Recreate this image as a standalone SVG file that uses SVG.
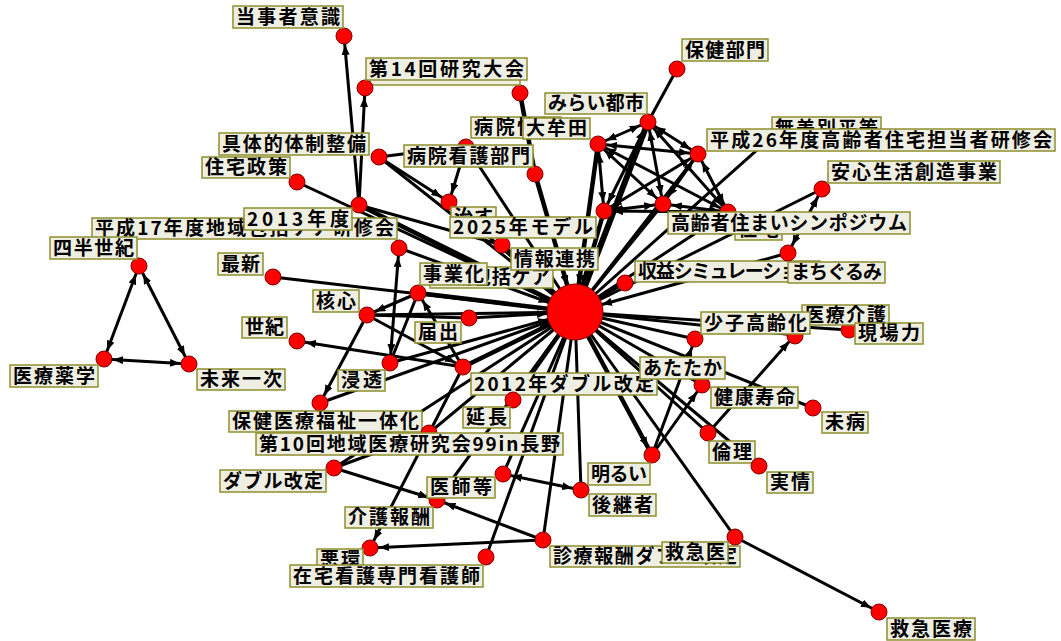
<svg xmlns="http://www.w3.org/2000/svg" width="1061" height="641" viewBox="0 0 1061 641">
<style>
.e{stroke:#000;stroke-width:3;fill:none}
.t{stroke:#000;stroke-width:4.5;fill:none}
.d{fill:#ff0000;stroke:#800000;stroke-width:1}
.b{fill:#eeeee2;stroke:#8e8e2e;stroke-width:1.5}
.l{font-family:"Noto Sans CJK JP","Noto Sans",sans-serif;font-weight:bold;font-size:19px;fill:#000}
</style>
<defs>
<marker id="ah" viewBox="0 0 10 8" refX="19" refY="4" markerWidth="10" markerHeight="8" markerUnits="userSpaceOnUse" orient="auto-start-reverse"><path d="M0,0 L10,4 L0,8 z" fill="#000"/></marker>
<marker id="ahc" viewBox="0 0 10 8" refX="38" refY="4" markerWidth="10" markerHeight="8" markerUnits="userSpaceOnUse" orient="auto"><path d="M0,0 L10,4 L0,8 z" fill="#000"/></marker>
</defs>
<rect width="1061" height="641" fill="#fff"/>
<g id="connectors">
<line class="e" x1="359" y1="205" x2="344" y2="36" marker-end="url(#ah)"/>
<line class="e" x1="359" y1="205" x2="365" y2="88" marker-end="url(#ah)"/>
<line class="t" x1="359" y1="205" x2="575" y2="312"/>
<line class="e" x1="359" y1="205" x2="502" y2="245"/>
<line class="e" x1="297" y1="182" x2="575" y2="312"/>
<line class="e" x1="379" y1="157" x2="449" y2="202" marker-end="url(#ah)"/>
<line class="e" x1="379" y1="157" x2="575" y2="312"/>
<line class="e" x1="379" y1="157" x2="466" y2="146"/>
<line class="e" x1="466" y1="146" x2="449" y2="202" marker-end="url(#ah)"/>
<line class="e" x1="466" y1="146" x2="575" y2="312"/>
<line class="e" x1="449" y1="202" x2="575" y2="312"/>
<line class="t" x1="520" y1="93" x2="535" y2="174"/>
<line class="t" x1="535" y1="174" x2="575" y2="312" marker-end="url(#ahc)"/>
<line class="e" x1="598" y1="144" x2="648" y2="122" marker-start="url(#ah)" marker-end="url(#ah)"/>
<line class="e" x1="598" y1="144" x2="604" y2="211" marker-start="url(#ah)" marker-end="url(#ah)"/>
<line class="e" x1="598" y1="144" x2="663" y2="204" marker-start="url(#ah)" marker-end="url(#ah)"/>
<line class="e" x1="598" y1="144" x2="698" y2="154" marker-start="url(#ah)" marker-end="url(#ah)"/>
<line class="e" x1="598" y1="144" x2="728" y2="212" marker-start="url(#ah)" marker-end="url(#ah)"/>
<line class="t" x1="598" y1="144" x2="575" y2="312" marker-end="url(#ahc)"/>
<line class="e" x1="677" y1="69" x2="648" y2="122"/>
<line class="t" x1="648" y1="122" x2="575" y2="312" style="stroke-width:6"/>
<line class="e" x1="648" y1="122" x2="698" y2="154" marker-start="url(#ah)" marker-end="url(#ah)"/>
<line class="e" x1="648" y1="122" x2="604" y2="211" marker-start="url(#ah)" marker-end="url(#ah)"/>
<line class="e" x1="648" y1="122" x2="663" y2="204" marker-start="url(#ah)" marker-end="url(#ah)"/>
<line class="e" x1="648" y1="122" x2="728" y2="212" marker-start="url(#ah)" marker-end="url(#ah)"/>
<line class="e" x1="698" y1="154" x2="575" y2="312"/>
<line class="e" x1="698" y1="154" x2="604" y2="211" marker-start="url(#ah)" marker-end="url(#ah)"/>
<line class="e" x1="698" y1="154" x2="663" y2="204" marker-start="url(#ah)" marker-end="url(#ah)"/>
<line class="e" x1="698" y1="154" x2="728" y2="212" marker-start="url(#ah)" marker-end="url(#ah)"/>
<line class="t" x1="604" y1="211" x2="575" y2="312" marker-end="url(#ahc)"/>
<line class="e" x1="604" y1="211" x2="663" y2="204" marker-start="url(#ah)" marker-end="url(#ah)"/>
<line class="e" x1="604" y1="211" x2="728" y2="212" marker-start="url(#ah)" marker-end="url(#ah)"/>
<line class="e" x1="663" y1="204" x2="575" y2="312"/>
<line class="e" x1="663" y1="204" x2="728" y2="212" marker-start="url(#ah)" marker-end="url(#ah)"/>
<line class="e" x1="728" y1="212" x2="575" y2="312"/>
<line class="e" x1="766" y1="142" x2="575" y2="312"/>
<line class="e" x1="822" y1="189" x2="575" y2="312"/>
<line class="e" x1="788" y1="253" x2="822" y2="189" marker-start="url(#ah)" marker-end="url(#ah)"/>
<line class="e" x1="788" y1="253" x2="575" y2="312" marker-end="url(#ahc)"/>
<line class="e" x1="625" y1="283" x2="575" y2="312" marker-end="url(#ahc)"/>
<line class="e" x1="695" y1="339" x2="575" y2="312"/>
<line class="e" x1="652" y1="455" x2="695" y2="339" marker-end="url(#ah)"/>
<line class="e" x1="575" y1="312" x2="795" y2="335"/>
<line class="e" x1="575" y1="312" x2="849" y2="330"/>
<line class="e" x1="575" y1="312" x2="813" y2="408"/>
<line class="e" x1="575" y1="312" x2="702" y2="385"/>
<line class="e" x1="575" y1="312" x2="708" y2="433"/>
<line class="e" x1="575" y1="312" x2="759" y2="466"/>
<line class="e" x1="708" y1="433" x2="795" y2="335" marker-end="url(#ah)"/>
<line class="t" x1="575" y1="312" x2="652" y2="455" marker-end="url(#ah)"/>
<line class="e" x1="652" y1="455" x2="702" y2="385" marker-end="url(#ah)"/>
<line class="e" x1="575" y1="312" x2="735" y2="537"/>
<line class="e" x1="735" y1="537" x2="879" y2="612" marker-end="url(#ah)"/>
<line class="e" x1="575" y1="312" x2="581" y2="490"/>
<line class="e" x1="503" y1="474" x2="581" y2="490" marker-start="url(#ah)" marker-end="url(#ah)"/>
<line class="e" x1="575" y1="312" x2="543" y2="540"/>
<line class="e" x1="543" y1="540" x2="437" y2="500" marker-end="url(#ah)"/>
<line class="e" x1="543" y1="540" x2="370" y2="548" marker-end="url(#ah)"/>
<line class="e" x1="575" y1="312" x2="486" y2="557"/>
<line class="e" x1="575" y1="312" x2="503" y2="474"/>
<line class="e" x1="334" y1="468" x2="437" y2="500" marker-end="url(#ah)"/>
<line class="e" x1="334" y1="468" x2="429" y2="433"/>
<line class="e" x1="334" y1="468" x2="575" y2="312"/>
<line class="e" x1="463" y1="367" x2="370" y2="548" marker-end="url(#ah)"/>
<line class="e" x1="437" y1="500" x2="575" y2="312"/>
<line class="e" x1="429" y1="433" x2="575" y2="312"/>
<line class="t" x1="513" y1="400" x2="575" y2="312"/>
<line class="e" x1="320" y1="403" x2="575" y2="312" marker-end="url(#ahc)"/>
<line class="e" x1="367" y1="315" x2="320" y2="403" marker-end="url(#ah)"/>
<line class="t" x1="463" y1="367" x2="575" y2="312"/>
<line class="e" x1="463" y1="367" x2="418" y2="293" marker-end="url(#ah)"/>
<line class="e" x1="367" y1="315" x2="463" y2="367" marker-end="url(#ah)"/>
<line class="e" x1="463" y1="367" x2="297" y2="341" marker-end="url(#ah)"/>
<line class="e" x1="390" y1="363" x2="399" y2="248" marker-start="url(#ah)" marker-end="url(#ah)"/>
<line class="e" x1="390" y1="363" x2="575" y2="312" marker-end="url(#ahc)"/>
<line class="e" x1="418" y1="293" x2="390" y2="363"/>
<line class="e" x1="469" y1="318" x2="575" y2="312" marker-end="url(#ahc)"/>
<line class="e" x1="367" y1="315" x2="469" y2="318"/>
<line class="e" x1="367" y1="315" x2="575" y2="312"/>
<line class="e" x1="418" y1="293" x2="367" y2="315" marker-end="url(#ah)"/>
<line class="t" x1="418" y1="293" x2="575" y2="312"/>
<line class="e" x1="399" y1="248" x2="575" y2="312" marker-end="url(#ahc)"/>
<line class="e" x1="273" y1="277" x2="575" y2="312"/>
<line class="e" x1="139" y1="266" x2="104" y2="359" marker-start="url(#ah)" marker-end="url(#ah)"/>
<line class="e" x1="139" y1="266" x2="189" y2="364" marker-start="url(#ah)" marker-end="url(#ah)"/>
<line class="e" x1="104" y1="359" x2="189" y2="364" marker-start="url(#ah)" marker-end="url(#ah)"/>
<line class="t" x1="502" y1="245" x2="575" y2="312" marker-end="url(#ahc)"/>
</g>
<g id="n00"><circle class="d" cx="575" cy="312" r="28"/></g>
<g id="n04"><circle class="d" cx="520" cy="93" r="8"/></g>
<g id="n16a"><circle class="d" cx="604" cy="211" r="8"/></g>
<g id="n41"><circle class="d" cx="503" cy="474" r="8"/></g>
<g id="n02"><rect class="b" x="370" y="64" width="150" height="21"/></g>
<g id="n03"><circle class="d" cx="365" cy="88" r="8"/><rect class="b" x="366" y="58" width="161" height="22"/><text class="l" x="369" y="76" textLength="155">第14回研究大会</text></g>
<g id="n01"><circle class="d" cx="344" cy="36" r="8"/><rect class="b" x="233" y="6" width="110" height="22"/><text class="l" x="236" y="24" textLength="104">当事者意識</text></g>
<g id="n05"><circle class="d" cx="677" cy="69" r="8"/><rect class="b" x="682" y="39" width="86" height="22"/><text class="l" x="685" y="57" textLength="80">保健部門</text></g>
<g id="n06"><circle class="d" cx="648" cy="122" r="8"/><rect class="b" x="545" y="93" width="102" height="21"/><text class="l" x="548" y="110" textLength="96">みらい都市</text></g>
<g id="n07"><circle class="d" cx="535" cy="174" r="8"/><rect class="b" x="471" y="117" width="90" height="21"/><text class="l" x="474" y="134" textLength="84">病院情報</text></g>
<g id="n08"><circle class="d" cx="598" cy="144" r="8"/><rect class="b" x="523" y="118" width="67" height="21"/><text class="l" x="526" y="135" textLength="61">大牟田</text></g>
<g id="n09"><circle class="d" cx="466" cy="147" r="8"/><rect class="b" x="404" y="145" width="129" height="22"/><text class="l" x="407" y="163" textLength="123">病院看護部門</text></g>
<g id="n10"><circle class="d" cx="379" cy="157" r="8"/><rect class="b" x="219" y="133" width="150" height="22"/><text class="l" x="222" y="151" textLength="144">具体的体制整備</text></g>
<g id="n11"><circle class="d" cx="297" cy="182" r="8"/><rect class="b" x="202" y="157" width="88" height="21"/><text class="l" x="205" y="174" textLength="82">住宅政策</text></g>
<g id="n12"><circle class="d" cx="449" cy="202" r="8"/><rect class="b" x="451" y="207" width="45" height="21"/><text class="l" x="454" y="224" textLength="39">治す</text></g>
<g id="n13"><circle class="d" cx="502" cy="245" r="8"/><rect class="b" x="450" y="217" width="146" height="21"/><text class="l" x="453" y="234" textLength="140">2025年モデル</text></g>
<g id="n14"><rect class="b" x="772" y="117" width="109" height="22"/><text class="l" x="775" y="135" textLength="103">無差別平等</text></g>
<g id="n15"><circle class="d" cx="698" cy="154" r="8"/><rect class="b" x="707" y="129" width="348" height="22"/><text class="l" x="710" y="147" textLength="342">平成26年度高齢者住宅担当者研修会</text></g>
<g id="n17"><circle class="d" cx="728" cy="212" r="8"/><rect class="b" x="735" y="219" width="47" height="21"/><text class="l" x="738" y="236" textLength="41">住宅</text></g>
<g id="n18"><circle class="d" cx="663" cy="204" r="8"/><rect class="b" x="668" y="212" width="242" height="22"/><text class="l" x="671" y="230" textLength="236">高齢者住まいシンポジウム</text></g>
<g id="n19"><circle class="d" cx="822" cy="189" r="8"/><rect class="b" x="828" y="161" width="172" height="22"/><text class="l" x="831" y="179" textLength="166">安心生活創造事業</text></g>
<g id="n20"><circle class="d" cx="625" cy="283" r="8"/><rect class="b" x="635" y="261" width="185" height="21"/><text class="l" x="638" y="278" textLength="179">収益シミュレーション</text></g>
<g id="n21"><circle class="d" cx="788" cy="253" r="8"/><rect class="b" x="788" y="262" width="97" height="21"/><text class="l" x="791" y="279" textLength="91">まちぐるみ</text></g>
<g id="n23"><rect class="b" x="430" y="267" width="123" height="21"/><text class="l" x="433" y="284" textLength="117">地域包括ケア</text></g>
<g id="n22"><rect class="b" x="511" y="248" width="87" height="22"/><text class="l" x="514" y="266" textLength="81">情報連携</text></g>
<g id="n24"><circle class="d" cx="418" cy="293" r="8"/><rect class="b" x="420" y="263" width="67" height="22"/><text class="l" x="423" y="281" textLength="61">事業化</text></g>
<g id="n26"><circle class="d" cx="399" cy="248" r="8"/><rect class="b" x="92" y="218" width="305" height="21"/><text class="l" x="95" y="235" textLength="299">平成17年度地域包括ケア研修会</text></g>
<g id="n25"><circle class="d" cx="359" cy="205" r="8"/><rect class="b" x="244" y="208" width="108" height="22"/><text class="l" x="247" y="226" textLength="102">2013年度</text></g>
<g id="n27"><circle class="d" cx="139" cy="266" r="8"/><rect class="b" x="50" y="237" width="87" height="22"/><text class="l" x="53" y="255" textLength="81">四半世紀</text></g>
<g id="n28"><circle class="d" cx="104" cy="359" r="8"/><rect class="b" x="10" y="365" width="88" height="22"/><text class="l" x="13" y="383" textLength="82">医療薬学</text></g>
<g id="n29"><circle class="d" cx="189" cy="364" r="8"/><rect class="b" x="197" y="369" width="88" height="21"/><text class="l" x="200" y="386" textLength="82">未来一次</text></g>
<g id="n30"><circle class="d" cx="273" cy="277" r="8"/><rect class="b" x="218" y="253" width="45" height="22"/><text class="l" x="221" y="271" textLength="39">最新</text></g>
<g id="n31"><circle class="d" cx="367" cy="315" r="8"/><rect class="b" x="313" y="290" width="46" height="22"/><text class="l" x="316" y="308" textLength="40">核心</text></g>
<g id="n32"><circle class="d" cx="297" cy="341" r="8"/><rect class="b" x="242" y="317" width="45" height="21"/><text class="l" x="245" y="334" textLength="39">世紀</text></g>
<g id="n33"><circle class="d" cx="469" cy="318" r="8"/><rect class="b" x="415" y="322" width="46" height="21"/><text class="l" x="418" y="339" textLength="40">届出</text></g>
<g id="n34"><circle class="d" cx="390" cy="363" r="8"/><rect class="b" x="338" y="370" width="47" height="21"/><text class="l" x="341" y="387" textLength="41">浸透</text></g>
<g id="n35"><circle class="d" cx="463" cy="367" r="8"/><rect class="b" x="471" y="373" width="186" height="22"/><text class="l" x="474" y="391" textLength="180">2012年ダブル改定</text></g>
<g id="n36"><circle class="d" cx="320" cy="403" r="8"/><rect class="b" x="229" y="411" width="193" height="21"/><text class="l" x="232" y="428" textLength="187">保健医療福祉一体化</text></g>
<g id="n37"><circle class="d" cx="429" cy="433" r="8"/><rect class="b" x="256" y="433" width="307" height="22"/><text class="l" x="259" y="451" textLength="301">第10回地域医療研究会99in長野</text></g>
<g id="n38"><circle class="d" cx="513" cy="400" r="8"/><rect class="b" x="463" y="407" width="47" height="21"/><text class="l" x="466" y="424" textLength="41">延長</text></g>
<g id="n39"><circle class="d" cx="334" cy="468" r="8"/><rect class="b" x="220" y="470" width="106" height="22"/><text class="l" x="223" y="488" textLength="100">ダブル改定</text></g>
<g id="n40"><circle class="d" cx="437" cy="500" r="8"/><rect class="b" x="427" y="477" width="68" height="21"/><text class="l" x="430" y="494" textLength="62">医師等</text></g>
<g id="n42"><rect class="b" x="345" y="507" width="88" height="21"/><text class="l" x="348" y="524" textLength="82">介護報酬</text></g>
<g id="n43"><circle class="d" cx="370" cy="548" r="8"/><rect class="b" x="317" y="549" width="46" height="21"/><text class="l" x="320" y="566" textLength="40">悪環</text></g>
<g id="n44"><circle class="d" cx="486" cy="557" r="8"/><rect class="b" x="290" y="565" width="193" height="22"/><text class="l" x="293" y="583" textLength="187">在宅看護専門看護師</text></g>
<g id="n45"><circle class="d" cx="543" cy="540" r="8"/><rect class="b" x="550" y="546" width="190" height="21"/><text class="l" x="553" y="563" textLength="184">診療報酬ダブル改定</text></g>
<g id="n46"><circle class="d" cx="735" cy="537" r="8"/><rect class="b" x="662" y="542" width="66" height="21"/><text class="l" x="665" y="559" textLength="60">救急医</text></g>
<g id="n47"><circle class="d" cx="879" cy="612" r="8"/><rect class="b" x="887" y="618" width="88" height="22"/><text class="l" x="890" y="636" textLength="82">救急医療</text></g>
<g id="n48"><circle class="d" cx="652" cy="455" r="8"/><rect class="b" x="588" y="463" width="62" height="22"/><text class="l" x="591" y="481" textLength="56">明るい</text></g>
<g id="n49"><circle class="d" cx="581" cy="490" r="8"/><rect class="b" x="589" y="494" width="67" height="22"/><text class="l" x="592" y="512" textLength="61">後継者</text></g>
<g id="n50"><circle class="d" cx="708" cy="433" r="8"/><rect class="b" x="709" y="441" width="46" height="22"/><text class="l" x="712" y="459" textLength="40">倫理</text></g>
<g id="n51"><circle class="d" cx="759" cy="466" r="8"/><rect class="b" x="767" y="472" width="46" height="21"/><text class="l" x="770" y="489" textLength="40">実情</text></g>
<g id="n52"><circle class="d" cx="813" cy="408" r="8"/><rect class="b" x="822" y="412" width="46" height="21"/><text class="l" x="825" y="429" textLength="40">未病</text></g>
<g id="n53"><rect class="b" x="711" y="387" width="87" height="21"/><text class="l" x="714" y="404" textLength="81">健康寿命</text></g>
<g id="n54"><circle class="d" cx="702" cy="385" r="8"/><rect class="b" x="640" y="357" width="85" height="22"/><text class="l" x="643" y="375" textLength="79">あたたか</text></g>
<g id="n57"><circle class="d" cx="849" cy="330" r="8"/></g>
<g id="n56"><circle class="d" cx="795" cy="336" r="8"/><rect class="b" x="802" y="305" width="87" height="20"/><text class="l" x="805" y="322" textLength="81">医療介護</text></g>
<g id="n57l"><rect class="b" x="855" y="323" width="68" height="21"/><text class="l" x="858" y="340" textLength="62">現場力</text></g>
<g id="n55"><circle class="d" cx="695" cy="339" r="8"/><rect class="b" x="701" y="312" width="109" height="22"/><text class="l" x="704" y="330" textLength="103">少子高齢化</text></g>
</svg>
